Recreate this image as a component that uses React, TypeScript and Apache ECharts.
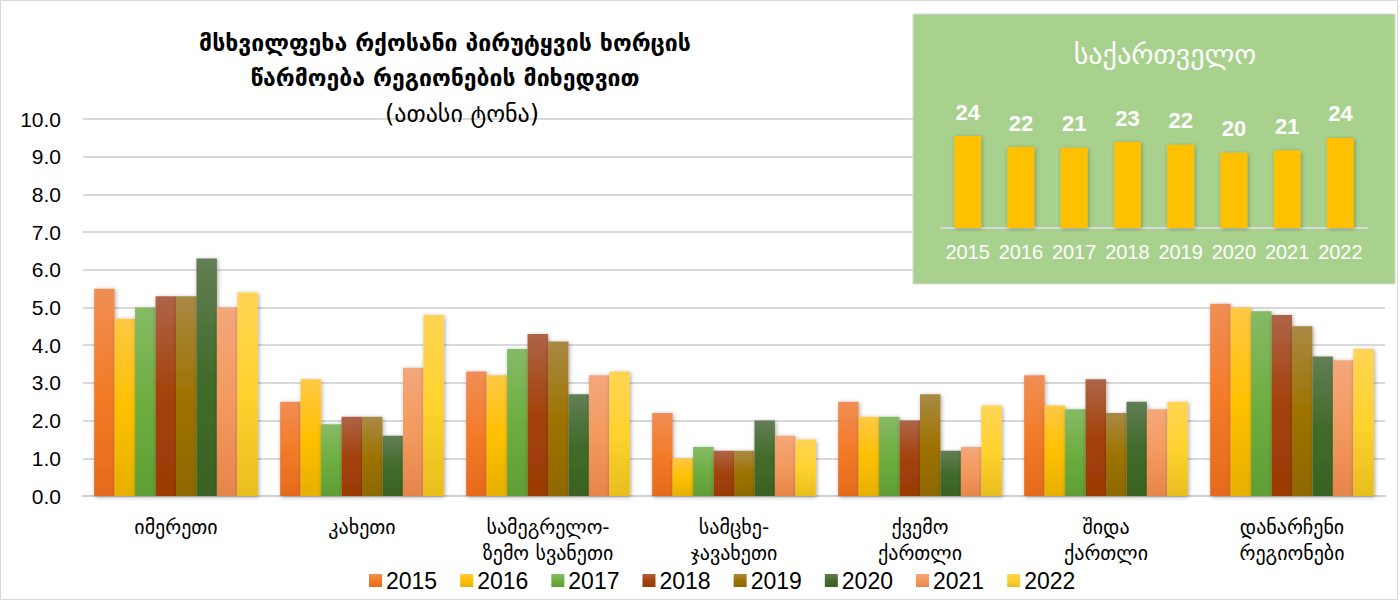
import React, { useEffect, useRef } from "react";
import * as echarts from "echarts";

const regions = [
  "იმერეთი",
  "კახეთი",
  "სამეგრელო-\nზემო სვანეთი",
  "სამცხე-\nჯავახეთი",
  "ქვემო\nქართლი",
  "შიდა\nქართლი",
  "დანარჩენი\nრეგიონები",
];
const years = ["2015", "2016", "2017", "2018", "2019", "2020", "2021", "2022"];
const v2015 = [5.5, 2.5, 3.3, 2.2, 2.5, 3.2, 5.1];
const v2016 = [4.7, 3.1, 3.2, 1.0, 2.1, 2.4, 5.0];
const v2017 = [5.0, 1.9, 3.9, 1.3, 2.1, 2.3, 4.9];
const v2018 = [5.3, 2.1, 4.3, 1.2, 2.0, 3.1, 4.8];
const v2019 = [5.3, 2.1, 4.1, 1.2, 2.7, 2.2, 4.5];
const v2020 = [6.3, 1.6, 2.7, 2.0, 1.2, 2.5, 3.7];
const v2021 = [5.0, 3.4, 3.2, 1.6, 1.3, 2.3, 3.6];
const v2022 = [5.4, 4.8, 3.3, 1.5, 2.4, 2.5, 3.9];
const georgiaTotal = [24.4, 21.5, 21.3, 22.8, 22.1, 20.0, 20.6, 23.9];
const yTicks = [0, 10];

const seriesValues = [v2015, v2016, v2017, v2018, v2019, v2020, v2021, v2022];
const colors: [string, string, string][] = [
  ["#F08E55", "#F37B28", "#E56A1C"],
  ["#FFC845", "#FFC000", "#E6B000"],
  ["#86BA66", "#6EAE40", "#5F9E35"],
  ["#AE6447", "#A3420A", "#9A3A05"],
  ["#A98A45", "#9E7300", "#8E6800"],
  ["#627E55", "#426B2A", "#3A6222"],
  ["#F4A77A", "#F39A5E", "#E6854A"],
  ["#FFD454", "#FFD22E", "#E8BE1E"],
];

const GEO = "'DejaVu Sans', 'Noto Sans', sans-serif";
const LAT = "'Liberation Sans', Arial, sans-serif";

export default function App() {
  const ref = useRef<HTMLDivElement>(null);
  useEffect(() => {
    if (!ref.current) return;
    const chart = echarts.init(ref.current, null, { renderer: "svg" });
    const mainSeries = seriesValues.map((vals, i) => ({
      name: years[i],
      type: "bar",
      xAxisIndex: 0,
      yAxisIndex: 0,
      data: vals,
      barGap: "0%",
      barCategoryGap: "12%",
      z: 2,
      itemStyle: {
        color: new echarts.graphic.LinearGradient(0, 0, 0, 1, [
          { offset: 0, color: colors[i][0] },
          { offset: 0.5, color: colors[i][1] },
          { offset: 1, color: colors[i][2] },
        ]),
        shadowBlur: 4,
        shadowColor: "rgba(0,0,0,0.35)",
        shadowOffsetX: 1,
        shadowOffsetY: 1,
      },
    }));
    chart.setOption({
      animation: false,
      backgroundColor: "#ffffff",
      title: [
        {
          text: "მსხვილფეხა რქოსანი პირუტყვის ხორცის\nწარმოება რეგიონების მიხედვით",
          left: 440,
          top: 20,
          textAlign: "center",
          textStyle: { fontFamily: GEO, fontSize: 23, fontWeight: "bold", color: "#000", lineHeight: 35 },
        },
        {
          text: "(ათასი ტონა)",
          left: 457,
          top: 97,
          textAlign: "center",
          textStyle: { fontFamily: GEO, fontSize: 24, fontWeight: "normal", color: "#000" },
        },
        {
          text: "საქართველო",
          left: 1160,
          top: 35,
          textAlign: "center",
          textStyle: { fontFamily: GEO, fontSize: 28, fontWeight: "normal", color: "#ffffff" },
        },
      ],
      graphic: [
        {
          type: "rect",
          z: 1,
          shape: { x: 913, y: 14, width: 482, height: 270 },
          style: { fill: "#A9D18E", stroke: "#D9D9D9", lineWidth: 1 },
        },
        {
          type: "rect",
          z: 0,
          shape: { x: 0.5, y: 0.5, width: 1397, height: 599 },
          style: { fill: "none", stroke: "#D9D9D9", lineWidth: 1 },
        },
      ],
      legend: {
        bottom: 4,
        left: 364,
        itemWidth: 13,
        itemHeight: 13,
        itemGap: 23,
        icon: "rect",
        data: years,
        textStyle: { fontFamily: LAT, fontSize: 23, color: "#000", padding: [0, 0, 0, -1] },
      },
      grid: [
        { left: 83, right: 15, top: 119, bottom: 105 },
        { left: 941, width: 426, top: 115, height: 113 },
      ],
      xAxis: [
        {
          type: "category",
          gridIndex: 0,
          data: regions,
          axisLine: { lineStyle: { color: "#D0D0D0", width: 2 } },
          axisTick: { show: false },
          axisLabel: { fontFamily: GEO, fontSize: 20, color: "#000", lineHeight: 26, margin: 18 },
        },
        {
          type: "category",
          gridIndex: 1,
          data: years,
          z: 3,
          axisLine: { lineStyle: { color: "#D9D9D9", width: 2 } },
          axisTick: { show: false },
          axisLabel: {
            fontFamily: LAT,
            fontSize: 20,
            color: "#ffffff",
            margin: 14,
            interval: 0,
            hideOverlap: false,
          },
        },
      ],
      yAxis: [
        {
          type: "value",
          gridIndex: 0,
          min: yTicks[0],
          max: yTicks[1],
          interval: 1,
          axisLine: { show: false },
          axisTick: { show: false },
          splitLine: { lineStyle: { color: "#D9D9D9", width: 2 } },
          axisLabel: {
            fontFamily: LAT,
            fontSize: 21,
            color: "#000",
            margin: 22,
            formatter: (v: number) => v.toFixed(1),
          },
        },
        {
          type: "value",
          gridIndex: 1,
          min: 0,
          max: 30,
          show: false,
          splitLine: { show: false },
        },
      ],
      series: [
        ...mainSeries,
        {
          name: "საქართველო",
          type: "bar",
          xAxisIndex: 1,
          yAxisIndex: 1,
          data: georgiaTotal,
          barWidth: 27,
          z: 4,
          itemStyle: {
            color: "#FFC000",
            shadowBlur: 4,
            shadowColor: "rgba(0,0,0,0.3)",
            shadowOffsetX: 1,
            shadowOffsetY: 1,
          },
          label: {
            show: true,
            position: "top",
            distance: 13,
            fontFamily: LAT,
            fontSize: 22,
            fontWeight: "bold",
            color: "#ffffff",
            formatter: (p: any) => Math.round(p.value).toString(),
          },
        },
      ],
    });
    return () => chart.dispose();
  }, []);
  return (
    <div
      ref={ref}
      style={{ position: "fixed", left: 0, top: 0, width: 1400, height: 601 }}
    />
  );
}
